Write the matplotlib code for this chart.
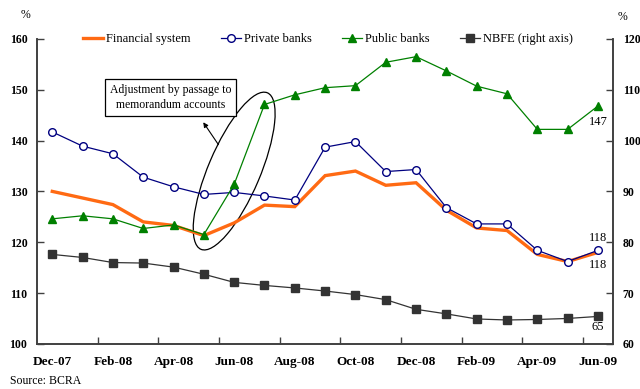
import matplotlib
matplotlib.use('Agg')
import matplotlib.pyplot as plt
import matplotlib.transforms as mtransforms
from matplotlib.patches import Ellipse
import numpy as np

plt.rcParams['font.family'] = ['Liberation Serif', 'DejaVu Serif']

months = ['Dec-07', 'Jan-08', 'Feb-08', 'Mar-08', 'Apr-08', 'May-08', 'Jun-08',
          'Jul-08', 'Aug-08', 'Sep-08', 'Oct-08', 'Nov-08', 'Dec-08', 'Jan-09',
          'Feb-09', 'Mar-09', 'Apr-09', 'May-09', 'Jun-09']

financial = [130.0, 128.7, 127.4, 124.0, 123.3, 121.3, 123.8, 127.3, 127.0, 133.1,
             134.0, 131.2, 131.7, 126.3, 122.8, 122.3, 117.6, 116.2, 118.0]
private = [141.7, 138.9, 137.4, 132.8, 130.9, 129.4, 129.8, 129.1, 128.3, 138.7,
           139.8, 133.9, 134.3, 126.8, 123.6, 123.6, 118.4, 116.2, 118.4]
public = [124.6, 125.2, 124.6, 122.7, 123.4, 121.5, 131.4, 147.1, 149.0, 150.4,
          150.8, 155.4, 156.5, 153.7, 150.7, 149.2, 142.2, 142.2, 146.8]
nbfe = [77.6, 77.0, 76.0, 75.9, 75.1, 73.7, 72.1, 71.5, 71.0, 70.4,
        69.7, 68.7, 66.8, 65.9, 64.9, 64.7, 64.8, 65.0, 65.4]

x = np.arange(len(months))
spine_col = '#404040'

fig = plt.figure(figsize=(6.4, 3.89), dpi=100)
ax = fig.add_axes([0.058, 0.116, 0.900, 0.784])
ax2 = ax.twinx()

l1, = ax.plot(x, financial, color='#FF6A13', lw=2.4, solid_joinstyle='miter')
l2, = ax.plot(x, private, color='#000080', lw=0.9, marker='o', ms=5.5,
              mfc='white', mec='#000080', mew=1.0)
l3, = ax.plot(x, public, color='#008000', lw=0.9, marker='^', ms=6,
              mfc='#008000', mec='#008000')
l4, = ax2.plot(x, nbfe, color='#333333', lw=0.9, marker='s', ms=5.5,
               mfc='#333333', mec='#333333')

ax.set_xlim(-0.5, len(months) - 0.5)
ax.set_ylim(100, 160)
ax2.set_ylim(60, 120)
ax.set_yticks(np.arange(100, 161, 10))
ax2.set_yticks(np.arange(60, 121, 10))

ax.set_xticks(x[::2])
ax.set_xticklabels(months[::2], fontweight='bold', fontsize=9.5)
ax.set_xticks(x[1::2] + 0.5, minor=True)
ax.tick_params(axis='x', which='major', length=0, pad=9)
ax.tick_params(axis='x', which='minor', direction='in', length=5, width=1, color=spine_col)
ax.tick_params(axis='y', direction='in', length=5, width=1, color=spine_col, pad=7)
ax2.tick_params(axis='y', direction='in', length=5, width=1, color=spine_col, pad=7)
for lab in ax.get_yticklabels() + ax2.get_yticklabels():
    lab.set_fontweight('bold')
    lab.set_fontsize(8.5)

for a in (ax, ax2):
    a.spines['top'].set_visible(False)
    for s in ('left', 'right', 'bottom'):
        a.spines[s].set_color(spine_col)
        a.spines[s].set_linewidth(1.2)

fig.text(0.040, 0.962, '%', fontsize=8.5, ha='center', va='center')
fig.text(0.973, 0.957, '%', fontsize=8.5, ha='center', va='center')
fig.text(0.015, 0.004, 'Source: BCRA', fontsize=8.5, ha='left', va='bottom')

ax.legend([l1, l2, l3, l4],
          ['Financial system', 'Private banks', 'Public banks', 'NBFE (right axis)'],
          loc='center', bbox_to_anchor=(0.505, 1.0), ncol=4, frameon=False,
          fontsize=9, handlelength=1.6, handletextpad=0.25, columnspacing=2.4,
          borderaxespad=0)

# end-of-series value labels
ax.annotate(f'{public[-1]:.0f}', (x[-1], public[-1]), xytext=(0, -14),
            textcoords='offset points', ha='center', fontsize=9)
ax.annotate(f'{private[-1]:.0f}', (x[-1], private[-1]), xytext=(0, 6.5),
            textcoords='offset points', ha='center', fontsize=9)
ax.annotate(f'{financial[-1]:.0f}', (x[-1], financial[-1]), xytext=(0, -11),
            textcoords='offset points', ha='center', fontsize=9)
ax2.annotate(f'{nbfe[-1]:.0f}', (x[-1], nbfe[-1]), xytext=(0, -9.5),
             textcoords='offset points', ha='center', fontsize=9)

# ellipse around the public banks jump, sized in inches
etrans = fig.dpi_scale_trans + mtransforms.ScaledTranslation(6.0, 134.0, ax.transData)
ell = Ellipse((0, 0), width=1.7, height=0.52, angle=67, fill=False,
              edgecolor='black', lw=0.9, transform=etrans)
ax.add_patch(ell)

ax.text(3.9, 148.5, 'Adjustment by passage to\nmemorandum accounts',
        ha='center', va='center', fontsize=8.5, linespacing=1.4,
        bbox=dict(boxstyle='square,pad=0.4', fc='white', ec='black', lw=0.9))
ax.annotate('', xy=(4.98, 143.6), xytext=(5.48, 139.2),
            arrowprops=dict(arrowstyle='-|>', color='black', lw=0.8,
                            shrinkA=0, shrinkB=0, mutation_scale=7))

fig.savefig('out.png', dpi=100)
